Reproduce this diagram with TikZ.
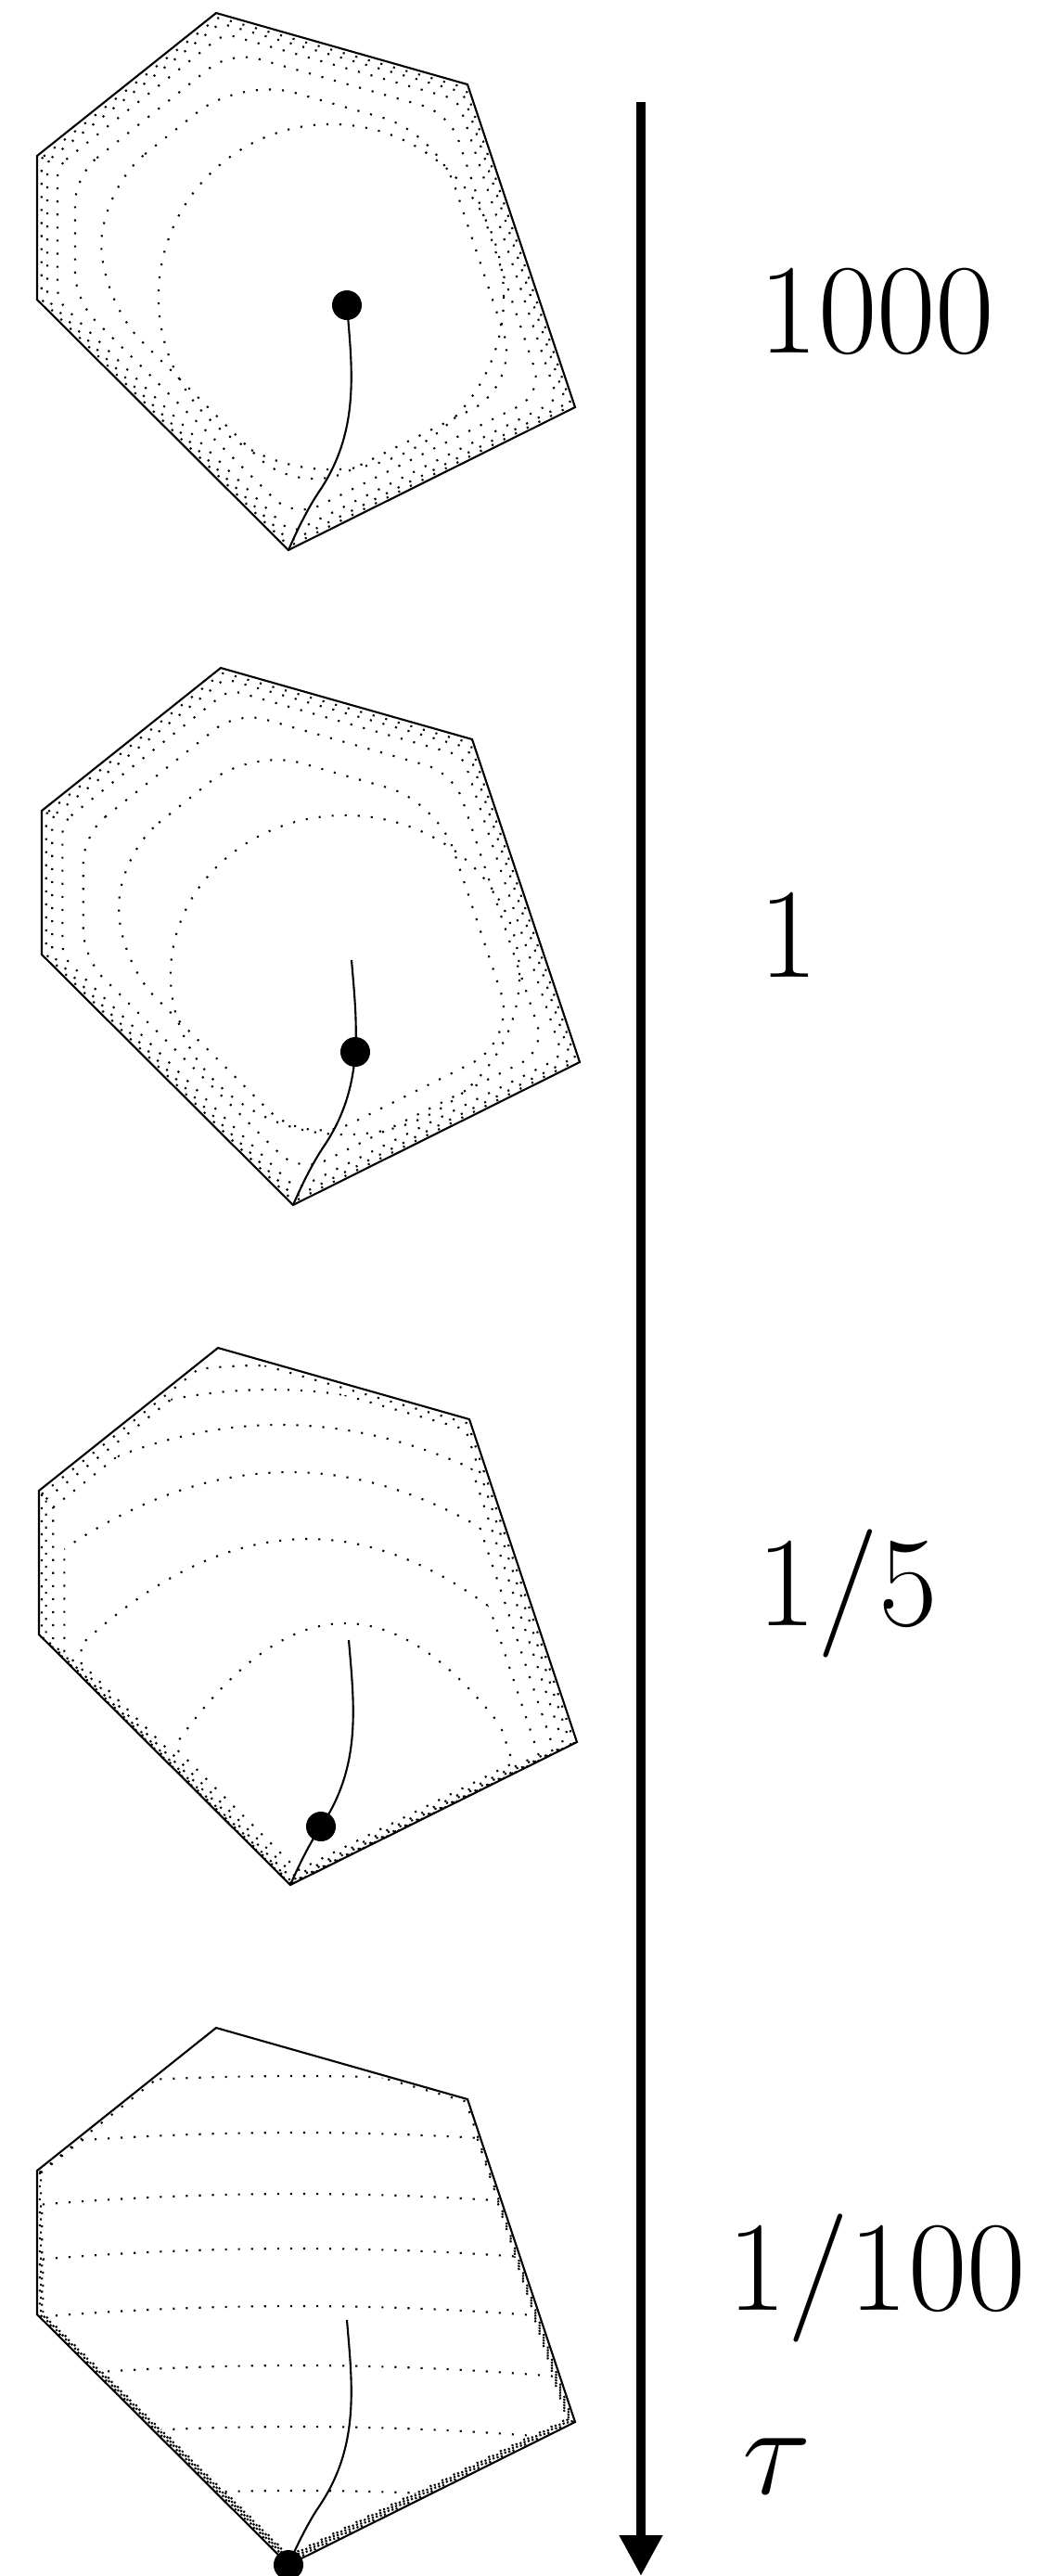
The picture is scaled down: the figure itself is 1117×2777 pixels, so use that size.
\RequirePackage{fix-cm}
\documentclass[tikz,border=0pt]{standalone}
\usetikzlibrary{arrows.meta}

% feasible polygon and central path (pixel units)
\newcommand\polypath{(40,168) -- (233,14) -- (504,91) -- (620,439) -- (311,593) -- (40,323) -- cycle}
\newcommand\centralpath{(374,329) .. controls (380,400) and (388,465) .. (344,530) .. controls (333,546) and (320,572) .. (311,593)}

\begin{document}
\begin{tikzpicture}[x=0.01cm, y=-0.01cm,
  edge/.style={line width=0.6pt, line join=miter},
  lvl/.style={line width=0.6pt, dash pattern=on 0.6pt off 3.4pt},
  cpath/.style={line width=0.6pt},
  iter/.style={circle, fill, inner sep=0pt, minimum size=0.32cm},
  lab/.style={inner sep=0pt, anchor=base west, font=\fontsize{39.3}{41}\selectfont}]
\useasboundingbox (0,0) rectangle (1117,2777);

% tau = 1000
\begin{scope}
  \draw[lvl] (357,320) circle[radius=1.86cm];
  \foreach \s/\r in {0.985/0.03cm, 0.965/0.06cm, 0.93/0.12cm, 0.87/0.3cm, 0.78/0.6cm}
    \draw[lvl, rounded corners=\r, scale around={\s:(355,330)}] \polypath;
  \draw[edge] \polypath;
  \draw[cpath] \centralpath;
  \node[iter] (x1) at (374,329) {};
\end{scope}

% tau = 1
\begin{scope}[shift={(5,706)}]
  \draw[lvl] (367,345) ellipse[x radius=1.88cm, y radius=1.72cm];
  \foreach \s/\r in {0.985/0.03cm, 0.965/0.06cm, 0.93/0.12cm, 0.86/0.3cm, 0.74/0.55cm}
    \draw[lvl, rounded corners=\r, scale around={\s:(360,350)}] \polypath;
  \draw[edge] \polypath;
  \draw[cpath] \centralpath;
  \node[iter] (x2) at (378,428) {};
\end{scope}

% tau = 1/5
\begin{scope}[shift={(2,1439)}]
  \foreach \h/\m/\a/\s in {311/370/0.0039/0.75, 220/330/0.0019/0.85, 148/310/0.0014/0.91,
                           97/300/0.0011/0.95, 59/290/0.0009/0.975, 33/280/0.0008/0.99} {
    \begin{scope}
      \clip[scale around={\s:(344,530)}] \polypath;
      \draw[lvl] (\m-400,{\h+\a*400*400}) parabola bend (\m,\h) (\m+400,{\h+\a*400*400});
    \end{scope}
    \begin{scope}
      \clip (\m-400,{\h+\a*400*400}) parabola bend (\m,\h) (\m+400,{\h+\a*400*400})
        -- (\m+400,1000) -- (\m-400,1000) -- cycle;
      \draw[lvl, scale around={\s:(344,530)}] \polypath;
    \end{scope}
  }
  \draw[edge] \polypath;
  \draw[cpath] \centralpath;
  \node[iter] (x3) at (344,530) {};
\end{scope}

% tau = 1/100
\begin{scope}[shift={(0,2172)}]
  \foreach \h/\s in {66/0.990, 127/0.986, 193/0.982, 252/0.978, 314/0.974, 378/0.970, 444/0.966, 513/0.962} {
    \begin{scope}
      \clip[scale around={\s:(330,330)}] \polypath;
      \draw[lvl] (-80,{\h+0.00015*400*400}) parabola bend (320,\h) (720,{\h+0.00015*400*400});
    \end{scope}
    \begin{scope}
      \clip (-80,{\h+0.00015*400*400}) parabola bend (320,\h) (720,{\h+0.00015*400*400})
        -- (720,1000) -- (-80,1000) -- cycle;
      \draw[lvl, scale around={\s:(330,330)}] \polypath;
    \end{scope}
  }
  \draw[edge] \polypath;
  \draw[cpath] \centralpath;
  \node[iter] (x4) at (311,593) {};
\end{scope}

% tau axis
\coordinate (ttop) at (691,110);
\coordinate (tbot) at (691,2777);
\draw[line width=3pt, -{Triangle[length=0.44cm, width=0.44cm]}] (ttop) -- (tbot);
\node[lab] (l1000) at (818,380) {$1000$};
\node[lab] (l1) at (818,1053) {$1$};
\node[lab] (l5) at (816,1752) {$1/5$};
\node[lab] (l100) at (784,2490) {$1/100$};
\node[lab] (ltau) at (800,2688) {$\tau$};
\end{tikzpicture}
\end{document}
